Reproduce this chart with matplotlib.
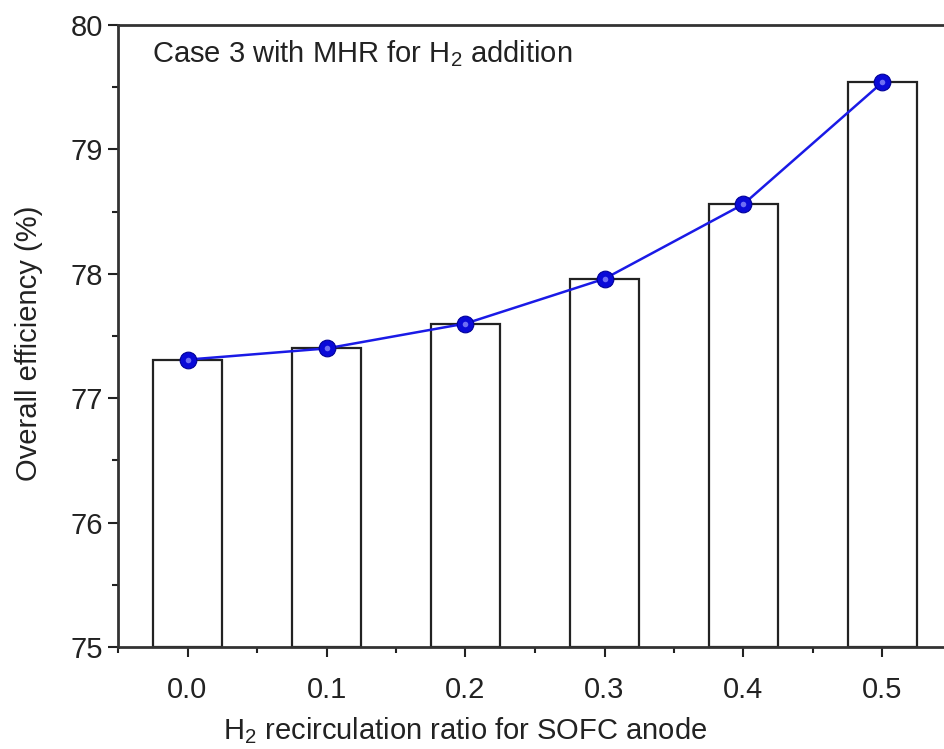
import numpy as np
import matplotlib
matplotlib.use("Agg")
import matplotlib.pyplot as plt

plt.rcParams['font.family'] = ['Liberation Sans', 'DejaVu Sans']
plt.rcParams['mathtext.fontset'] = 'custom'
plt.rcParams['mathtext.rm'] = 'Liberation Sans'

# data
ratio = [0.0, 0.1, 0.2, 0.3, 0.4, 0.5]
efficiency = [77.31, 77.40, 77.60, 77.96, 78.56, 79.54]
tick_labels = ["0.0", "0.1", "0.2", "0.3", "0.4", "0.5"]

fig = plt.figure(figsize=(9.44, 7.49), dpi=100)
# right spine sits just outside the image, as in the reference
ax = fig.add_axes([118 / 944, 1 - 647 / 749, 834 / 944, 622 / 749])

ax.bar(ratio, np.array(efficiency) - 75, bottom=75, width=0.05,
       facecolor='white', edgecolor='#222222', linewidth=1.6, zorder=2)

ax.plot(ratio, efficiency, '-', color='#1a1ae6', linewidth=1.8, zorder=3)
ax.plot(ratio, efficiency, 'o', color='#0a0ad8', markersize=12,
        markeredgecolor='#000099', markeredgewidth=0.8, zorder=4)
ax.plot(ratio, efficiency, 'o', color='#9a9aff', markersize=4,
        markeredgewidth=0, zorder=5, alpha=0.7)

ax.set_xlim(-0.05, 0.55)
ax.set_ylim(75, 80)
ax.set_xticks(ratio)
ax.set_xticklabels(tick_labels)
ax.set_xticks(np.arange(-0.05, 0.55, 0.1), minor=True)
ax.set_yticks([75, 76, 77, 78, 79, 80])
ax.set_yticks(np.arange(75.5, 80, 1.0), minor=True)

ax.tick_params(axis='both', which='major', direction='out', length=7,
               width=1.5, labelsize=21, colors='#222222', pad=4)
ax.tick_params(axis='both', which='minor', direction='out', length=4,
               width=1.5, colors='#222222')
ax.tick_params(axis='x', which='major', pad=14)
for s in ax.spines.values():
    s.set_linewidth(2)
    s.set_color('#333333')

ax.set_xlabel("H$_2$ recirculation ratio for SOFC anode", fontsize=21,
              color='#222222')
ax.set_ylabel("Overall efficiency (%)", fontsize=21, color='#222222')
ax.xaxis.set_label_coords(0.416, -0.11)
ax.yaxis.set_label_coords(-0.09, 0.489)

ax.text(0.041, 0.978, "Case 3 with MHR for H$_2$ addition",
        transform=ax.transAxes, fontsize=21, color='#222222', va='top')

fig.savefig("out.png", dpi=100)
